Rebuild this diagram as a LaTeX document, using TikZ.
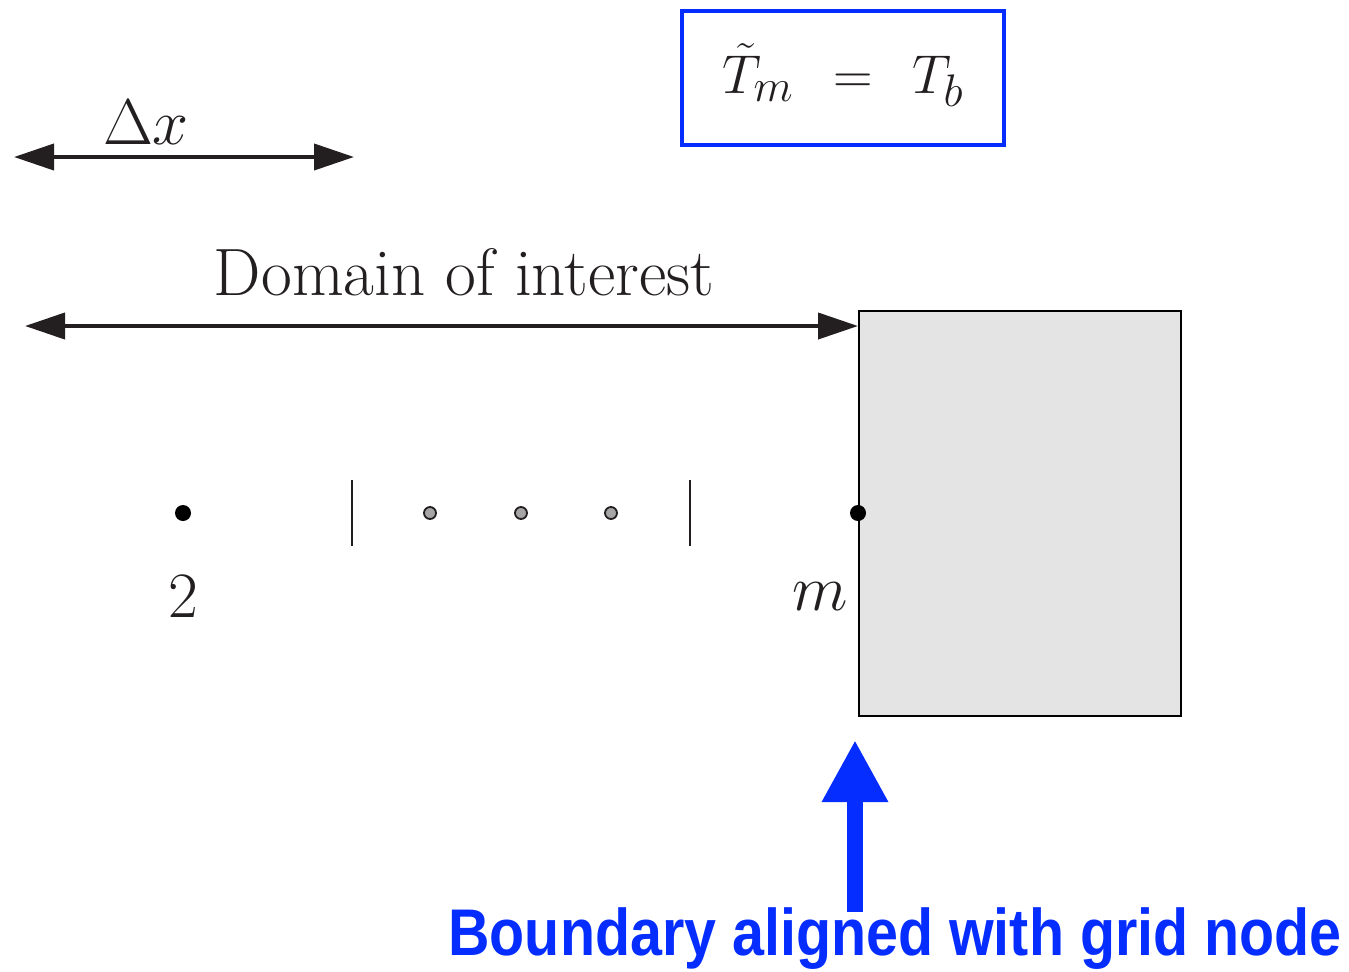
\documentclass[tikz,border=0pt]{standalone}
\usepackage{fontspec}
\usetikzlibrary{arrows.meta}
\newfontfamily\capfont[FakeStretch=0.87]{Liberation Sans}
\definecolor{ink}{RGB}{35,31,32}
\definecolor{vivid}{RGB}{5,45,255}
\definecolor{wallgray}{RGB}{228,228,228}
\begin{document}
\begin{tikzpicture}[x=0.5pt,y=-0.5pt,
  dimarrow/.style={draw=ink,line width=2pt,{Triangle[length=20pt,width=13pt]}-{Triangle[length=20pt,width=13pt]}},
  bigdot/.style={circle,fill=black,inner sep=0pt,minimum size=8pt},
  ghostdot/.style={circle,fill=gray!70,draw=ink,line width=0.9pt,inner sep=0pt,minimum size=6pt},
  tick/.style={draw=ink,line width=1.4pt},
  lbl/.style={text=ink,inner sep=0pt},
  mathlbl/.style={text=ink,inner sep=0pt,font=\Huge,scale=1.3},
  midfont/.style={font=\fontsize{33.5}{40}\selectfont}]
\useasboundingbox (0,0) rectangle (1349,971);
% Delta x arrow
\coordinate (dxl) at (14,157);
\coordinate (dxr) at (354,157);
\draw[dimarrow] (dxl) -- (dxr);
\node[mathlbl] (dxlabel) at (146,122) {$\Delta x$};
% domain wall
\node[draw=black,line width=1pt,fill=wallgray,minimum width=161pt,minimum height=202.5pt,inner sep=0pt,anchor=north west] (wall) at (858,310) {};
\coordinate (doml) at (25,326);
\draw[dimarrow] (doml) -- (doml -| wall.west);
\node[lbl,midfont] (domlabel) at (464,272) {Domain of interest};
% grid points
\node[bigdot] (p2) at (183,513) {};
\node[ghostdot] (g1) at (430,513) {};
\node[ghostdot] (g2) at (521,513) {};
\node[ghostdot] (g3) at (611,513) {};
\node[bigdot] (pm) at (858,513) {};
\coordinate (t1a) at (352,480); \coordinate (t1b) at (352,546);
\coordinate (t2a) at (690,480); \coordinate (t2b) at (690,546);
\draw[tick] (t1a) -- (t1b);
\draw[tick] (t2a) -- (t2b);
\node[mathlbl] (l2) at (183,597) {$2$};
\node[mathlbl] (lm) at (820,597) {$m$};
% boundary condition box
\node[draw=vivid,line width=2pt,minimum width=161pt,minimum height=67pt,inner sep=0pt] (bc) at (843,77.5) {};
\node[mathlbl,scale=1.1/1.3] (bctext) at (843,75) {$\tilde{T}_m\;\,=\;\,T_b$};
% blue arrow
\coordinate (arrbase) at (855,912);
\coordinate (arrtip) at (855,740);
\draw[vivid,line width=8pt,-{Triangle[length=31pt,width=31pt]}] (arrbase) -- (arrtip);
\node[text=vivid,font=\capfont\bfseries\fontsize{33}{40}\selectfont,inner sep=0pt] (caption) at (895,939) {Boundary aligned with grid node};
\end{tikzpicture}
\end{document}
